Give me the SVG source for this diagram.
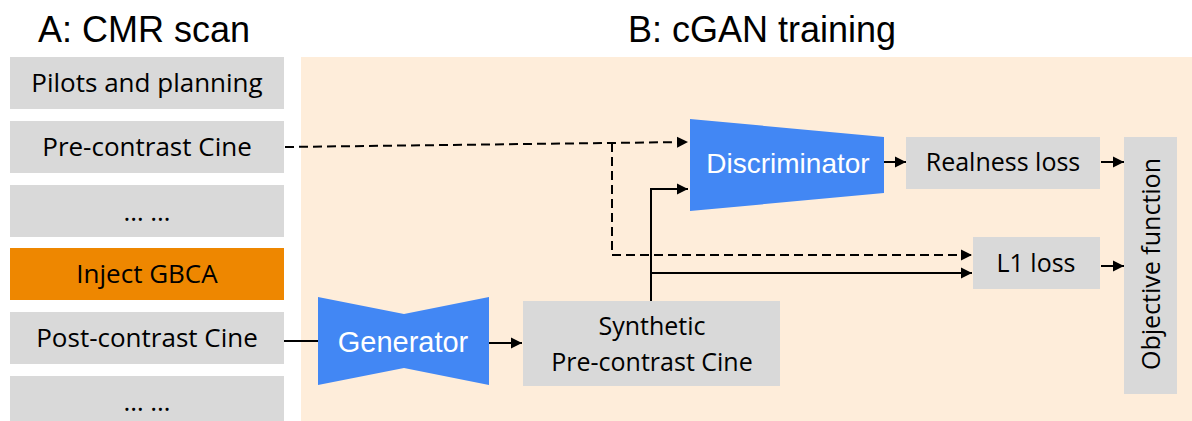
<svg xmlns="http://www.w3.org/2000/svg" width="1192" height="421" viewBox="0 0 1192 421">
  <style>
    .title { font-family: "Liberation Sans", Arial, sans-serif; font-size: 36px; fill: #000; }
    .box { fill: #D9D9D9; }
    .orange { fill: #EE8700; }
    .lbl { font-family: "Open Sans", "Noto Sans", sans-serif; font-size: 26px; fill: #000; text-anchor: middle; }
    .lbl2 { font-family: "Open Sans", "Noto Sans", sans-serif; font-size: 25px; fill: #000; text-anchor: middle; }
    .net { fill: #4287F4; }
    .netlbl { font-family: "Liberation Sans", Arial, sans-serif; fill: #FFF; text-anchor: middle; }
    .line { stroke: #000; stroke-width: 2; fill: none; }
    .dash { stroke: #000; stroke-width: 2; fill: none; stroke-dasharray: 9 5; }
  </style>
  <defs>
    <marker id="arr" viewBox="0 0 10 10" refX="10" refY="5" markerWidth="11" markerHeight="12" markerUnits="userSpaceOnUse" orient="auto">
      <path d="M0,0 L10,5 L0,10 z" fill="#000"/>
    </marker>
  </defs>

  <rect id="panel-b" x="301" y="57" width="891" height="364" fill="#FEEDDA"/>

  <text class="title" x="38" y="42">A: CMR scan</text>
  <text class="title" x="628" y="42">B: cGAN training</text>

  <g id="pilots"><rect class="box" x="10" y="57" width="274" height="52"/><text class="lbl" x="147" y="92">Pilots and planning</text></g>
  <g id="pre-cine"><rect class="box" x="10" y="121" width="274" height="52"/><text class="lbl" x="147" y="156">Pre-contrast Cine</text></g>
  <g id="dots1"><rect class="box" x="10" y="185" width="274" height="52"/><text class="lbl" x="147" y="221">… …</text></g>
  <g id="inject"><rect class="orange" x="10" y="248" width="274" height="52"/><text class="lbl" x="147" y="283">Inject GBCA</text></g>
  <g id="post-cine"><rect class="box" x="10" y="312" width="274" height="52"/><text class="lbl" x="147" y="347">Post-contrast Cine</text></g>
  <g id="dots2"><rect class="box" x="10" y="376" width="274" height="52"/><text class="lbl" x="147" y="411">… …</text></g>

  <g id="generator">
    <polygon class="net" points="318,297 404,314 489,297 489,385 404,368 318,385"/>
    <text class="netlbl" x="403" y="352" font-size="29">Generator</text>
  </g>
  <g id="synthetic">
    <rect class="box" x="523" y="301" width="257" height="85"/>
    <text class="lbl2" x="652" y="335">Synthetic</text>
    <text class="lbl2" x="652" y="371">Pre-contrast Cine</text>
  </g>
  <g id="discriminator">
    <polygon class="net" points="690,119 884,137 884,193 690,211"/>
    <text class="netlbl" x="788" y="173" font-size="28">Discriminator</text>
  </g>
  <g id="realness"><rect class="box" x="906" y="137" width="194" height="52"/><text class="lbl2" x="1003" y="171">Realness loss</text></g>
  <g id="l1"><rect class="box" x="973" y="237" width="127" height="52"/><text class="lbl2" x="1036" y="272">L1 loss</text></g>
  <g id="objective"><rect class="box" x="1124" y="137" width="53" height="257"/><text class="lbl2" transform="translate(1160,264) rotate(-90)">Objective function</text></g>

  <g id="connectors">
    <line class="dash" x1="285" y1="147" x2="688" y2="142" marker-end="url(#arr)"/>
    <polyline class="dash" points="612,143 612,255 972,255" marker-end="url(#arr)"/>
    <line class="line" x1="284" y1="341" x2="318" y2="341"/>
    <line class="line" x1="489" y1="343" x2="522" y2="343" marker-end="url(#arr)"/>
    <polyline class="line" points="651,301 651,189 688,189" marker-end="url(#arr)"/>
    <line class="line" x1="651" y1="273" x2="972" y2="273" marker-end="url(#arr)"/>
    <line class="line" x1="884" y1="162" x2="906" y2="162" marker-end="url(#arr)"/>
    <line class="line" x1="1101" y1="162" x2="1124" y2="162" marker-end="url(#arr)"/>
    <line class="line" x1="1101" y1="266" x2="1124" y2="266" marker-end="url(#arr)"/>
  </g>
</svg>
